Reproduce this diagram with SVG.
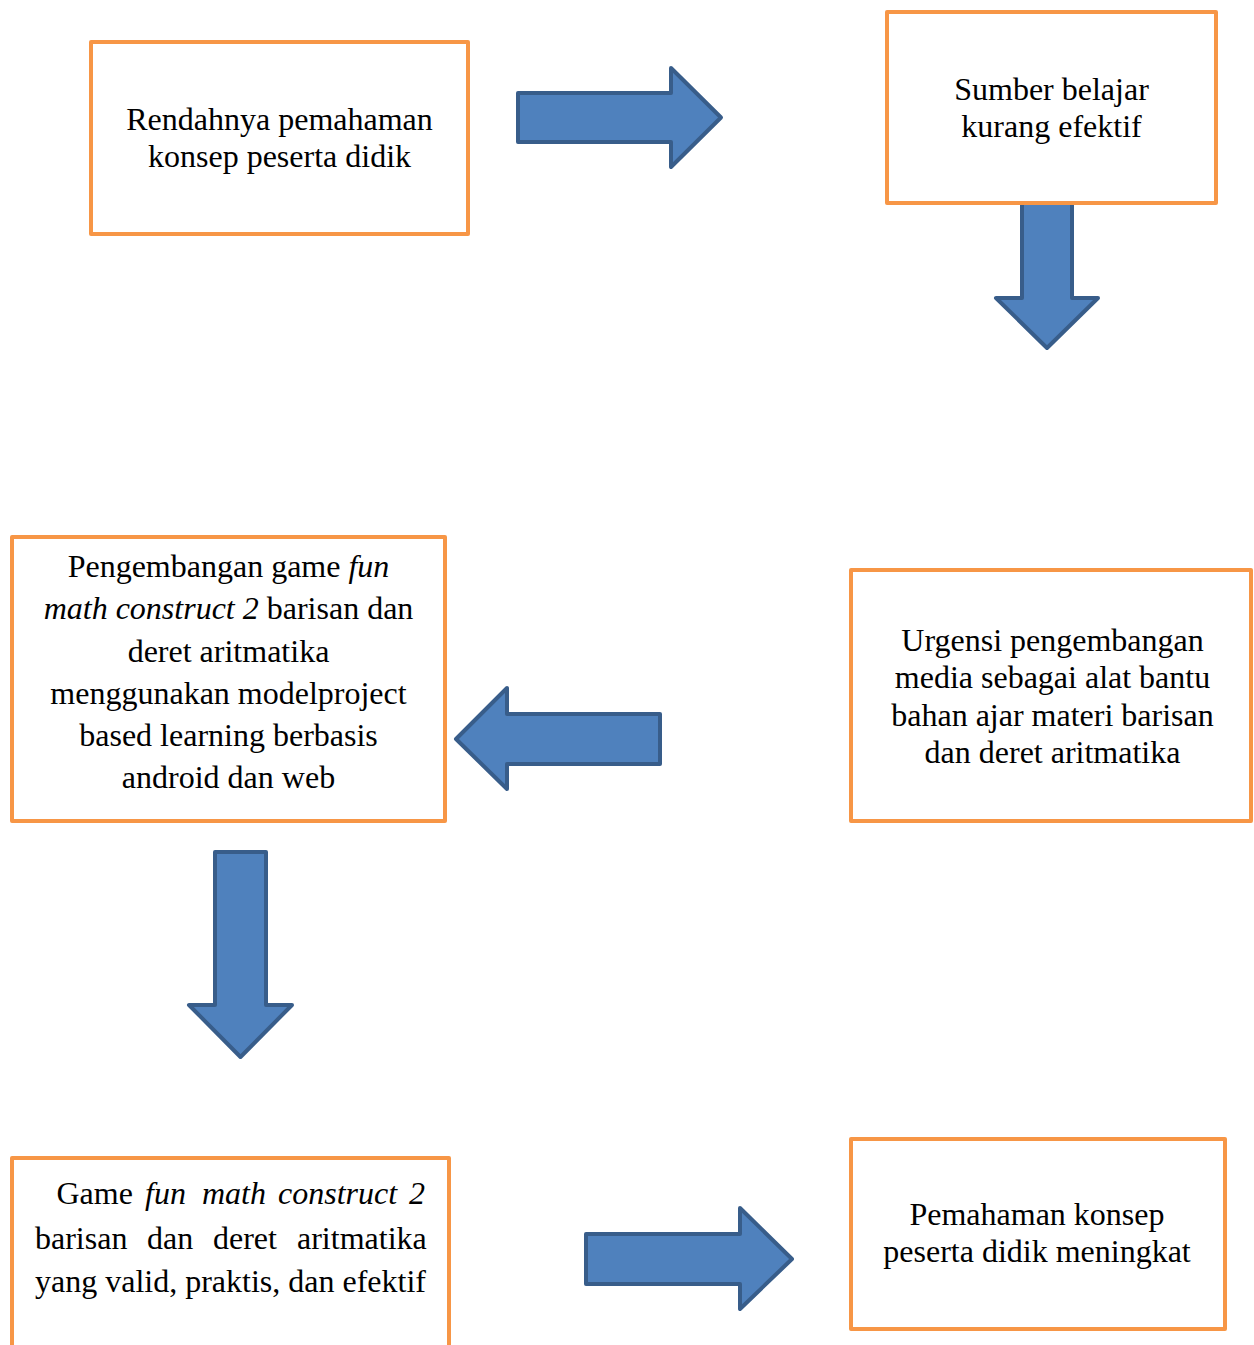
<svg xmlns="http://www.w3.org/2000/svg" width="1254" height="1345" viewBox="0 0 1254 1345">
  <style>
    .box { fill: #FFFFFF; stroke: #F79646; stroke-width: 4; stroke-linejoin: round; }
    .arrow { fill: #4F81BD; stroke: #385D8A; stroke-width: 4; stroke-linejoin: round; }
    .t { font-family: "Liberation Serif", "Times New Roman", serif; font-size: 32px; fill: #000000; }
    .c { text-anchor: middle; }
    .i { font-style: italic; }
  </style>
  <rect x="0" y="0" width="1254" height="1345" fill="#FFFFFF"/>

  <g id="connectors">
    <path class="arrow" d="M518,93 L671,93 L671,68 L721,117.5 L671,167 L671,142 L518,142 Z"/>
    <path class="arrow" d="M1022,196 L1072,196 L1072,298 L1098,298 L1047,348 L996,298 L1022,298 Z"/>
    <path class="arrow" d="M456,739 L507,688 L507,714 L660,714 L660,764 L507,764 L507,789 Z"/>
    <path class="arrow" d="M215,852 L266,852 L266,1005 L292,1005 L240.5,1057 L189,1005 L215,1005 Z"/>
    <path class="arrow" d="M586,1234 L740,1234 L740,1208 L792,1259 L740,1309 L740,1284 L586,1284 Z"/>
  </g>

  <g id="node1">
    <rect class="box" x="91" y="42" width="377" height="192"/>
    <text class="t c" x="279.5" y="130">Rendahnya pemahaman</text>
    <text class="t c" x="279.5" y="167">konsep peserta didik</text>
  </g>

  <g id="node2">
    <rect class="box" x="887" y="12" width="329" height="191"/>
    <text class="t c" x="1051.5" y="100">Sumber belajar</text>
    <text class="t c" x="1051.5" y="137">kurang efektif</text>
  </g>

  <g id="node3">
    <rect class="box" x="12" y="537" width="433" height="284"/>
    <text class="t c" x="228.5" y="577">Pengembangan game <tspan class="i">fun</tspan></text>
    <text class="t c" x="228.5" y="619"><tspan class="i">math construct 2</tspan> barisan dan</text>
    <text class="t c" x="228.5" y="661.5">deret aritmatika</text>
    <text class="t c" x="228.5" y="703.5">menggunakan modelproject</text>
    <text class="t c" x="228.5" y="746">based learning berbasis</text>
    <text class="t c" x="228.5" y="788">android dan web</text>
  </g>

  <g id="node4">
    <rect class="box" x="851" y="570" width="400" height="251"/>
    <text class="t c" x="1052.5" y="650.5">Urgensi pengembangan</text>
    <text class="t c" x="1052.5" y="688">media sebagai alat bantu</text>
    <text class="t c" x="1052.5" y="725.5">bahan ajar materi barisan</text>
    <text class="t c" x="1052.5" y="762.5">dan deret aritmatika</text>
  </g>

  <g id="node5">
    <rect class="box" x="12" y="1158" width="437" height="200"/>
    <text class="t" y="1203.5"><tspan x="56.5">Game</tspan><tspan class="i" x="145">fun</tspan><tspan class="i" x="202">math</tspan><tspan class="i" x="278">construct</tspan><tspan class="i" x="409">2</tspan></text>
    <text class="t" y="1248.5"><tspan x="35">barisan</tspan><tspan x="147">dan</tspan><tspan x="213">deret</tspan><tspan x="297">aritmatika</tspan></text>
    <text class="t" x="35" y="1292">yang valid, praktis, dan efektif</text>
  </g>

  <g id="node6">
    <rect class="box" x="851" y="1139" width="374" height="190"/>
    <text class="t c" x="1037" y="1225">Pemahaman konsep</text>
    <text class="t c" x="1037" y="1262">peserta didik meningkat</text>
  </g>
</svg>
